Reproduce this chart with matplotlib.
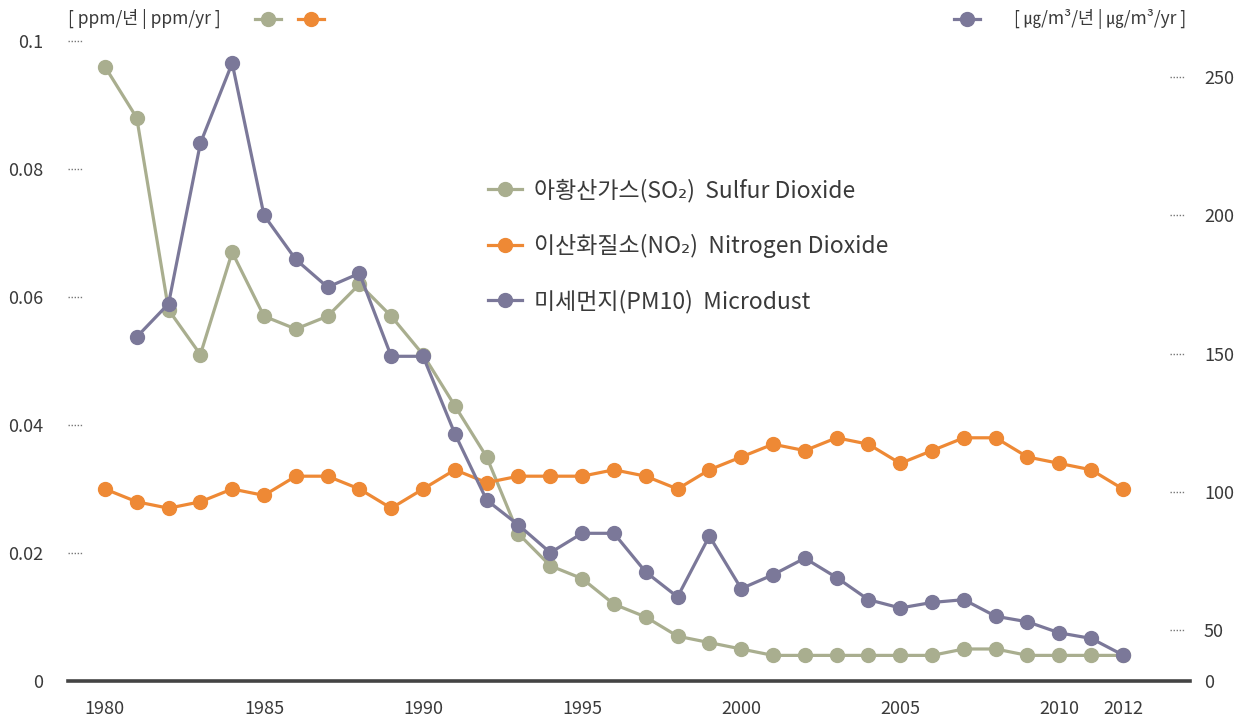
import matplotlib
matplotlib.use("Agg")
import matplotlib.pyplot as plt
from matplotlib.lines import Line2D

plt.rcParams['font.family'] = ['Noto Sans CJK KR', 'DejaVu Sans']

years = list(range(1980, 2013))
so2 = [0.096, 0.088, 0.058, 0.051, 0.067, 0.057, 0.055, 0.057, 0.062, 0.057,
       0.051, 0.043, 0.035, 0.023, 0.018, 0.016, 0.012, 0.010, 0.007, 0.006,
       0.005, 0.004, 0.004, 0.004, 0.004, 0.004, 0.004, 0.005, 0.005, 0.004,
       0.004, 0.004, 0.004]
no2 = [0.030, 0.028, 0.027, 0.028, 0.030, 0.029, 0.032, 0.032, 0.030, 0.027,
       0.030, 0.033, 0.031, 0.032, 0.032, 0.032, 0.033, 0.032, 0.030, 0.033,
       0.035, 0.037, 0.036, 0.038, 0.037, 0.034, 0.036, 0.038, 0.038, 0.035,
       0.034, 0.033, 0.030]
pm_years = list(range(1981, 2013))
pm10 = [156, 168, 226, 255, 200, 184, 174, 179, 149, 149,
        121, 97, 88, 78, 85, 85, 71, 62, 84, 65,
        70, 76, 69, 61, 58, 60, 61, 55, 53, 49,
        47, 41]

left_ticks = [0, 0.02, 0.04, 0.06, 0.08, 0.1]
left_labels = ['0', '0.02', '0.04', '0.06', '0.08', '0.1']
right_ticks = [50, 100, 150, 200, 250]
x_ticks = [1980, 1985, 1990, 1995, 2000, 2005, 2010, 2012]

c_so2 = '#a9ae8f'
c_no2 = '#ee8935'
c_pm = '#7b7899'
c_txt = '#3a3a3a'

fig = plt.figure(figsize=(12.39, 7.22), dpi=100)
ax = fig.add_axes([0.0549, 0.0568, 0.9056, 0.8864])
ax2 = ax.twinx()

ax.set_xlim(1978.84, 2014.11)
ax.set_ylim(0, 0.1)
ax2.set_ylim(31.6, 263.0)

lw, ms = 2.3, 10
ax.plot(years, so2, color=c_so2, lw=lw, marker='o', ms=ms, zorder=3)
ax.plot(years, no2, color=c_no2, lw=lw, marker='o', ms=ms, zorder=3)
ax2.plot(pm_years, pm10, color=c_pm, lw=lw, marker='o', ms=ms, zorder=3)

for a in (ax, ax2):
    for s in ('top', 'left', 'right', 'bottom'):
        a.spines[s].set_visible(False)
ax.spines['bottom'].set_visible(True)
ax.spines['bottom'].set_color('#444444')
ax.spines['bottom'].set_linewidth(2.6)

ax.set_xticks(x_ticks)
ax.set_xticklabels([str(x) for x in x_ticks])
ax.tick_params(axis='x', length=0, pad=14, labelsize=13, labelcolor=c_txt)

ax.set_yticks(left_ticks)
ax.set_yticklabels(left_labels)
ax.tick_params(axis='y', length=0, pad=18, labelsize=13, labelcolor=c_txt)

ax2.set_yticks([31.6] + right_ticks)
ax2.set_yticklabels(['0'] + [str(t) for t in right_ticks])
ax2.tick_params(axis='y', length=0, pad=10, labelsize=13, labelcolor=c_txt)

# dotted tick marks inside the axes
for t in left_ticks[1:]:
    ax.plot([0.0, 0.013], [t, t], transform=ax.get_yaxis_transform(),
            color='#777777', lw=1, ls=(0, (1, 1.2)), clip_on=False)
for t in right_ticks:
    ax2.plot([0.982, 0.995], [t, t], transform=ax2.get_yaxis_transform(),
             color='#777777', lw=1, ls=(0, (1, 1.2)), clip_on=False)

# legend in the middle
handles = [
    Line2D([], [], color=c_so2, lw=lw, marker='o', ms=ms),
    Line2D([], [], color=c_no2, lw=lw, marker='o', ms=ms),
    Line2D([], [], color=c_pm, lw=lw, marker='o', ms=ms),
]
labels = ['아황산가스(SO₂)  Sulfur Dioxide',
          '이산화질소(NO₂)  Nitrogen Dioxide',
          '미세먼지(PM10)  Microdust']
leg = ax.legend(handles, labels, loc='upper left', bbox_to_anchor=(0.356, 0.817),
                frameon=False, fontsize=16.5, labelspacing=1.38, handlelength=1.5,
                handletextpad=0.5)
for t in leg.get_texts():
    t.set_color(c_txt)

# unit headers
yh = 1 - 19 / 722
fig.text(68 / 1239, yh, '[ ppm/년 | ppm/yr ]', fontsize=12.5,
         color=c_txt, va='center', ha='left')
for xc, col in ((268, c_so2), (311, c_no2), (967, c_pm)):
    fig.add_artist(Line2D([(xc - 13) / 1239, xc / 1239, (xc + 13) / 1239],
                          [yh, yh, yh], color=col, lw=lw, marker='o', ms=ms,
                          markevery=[1], transform=fig.transFigure))
fig.text(1186 / 1239, yh, '[ ㎍/m³/년 | ㎍/m³/yr ]', fontsize=12.5,
         color=c_txt, va='center', ha='right')

fig.savefig('out.png', dpi=100)
